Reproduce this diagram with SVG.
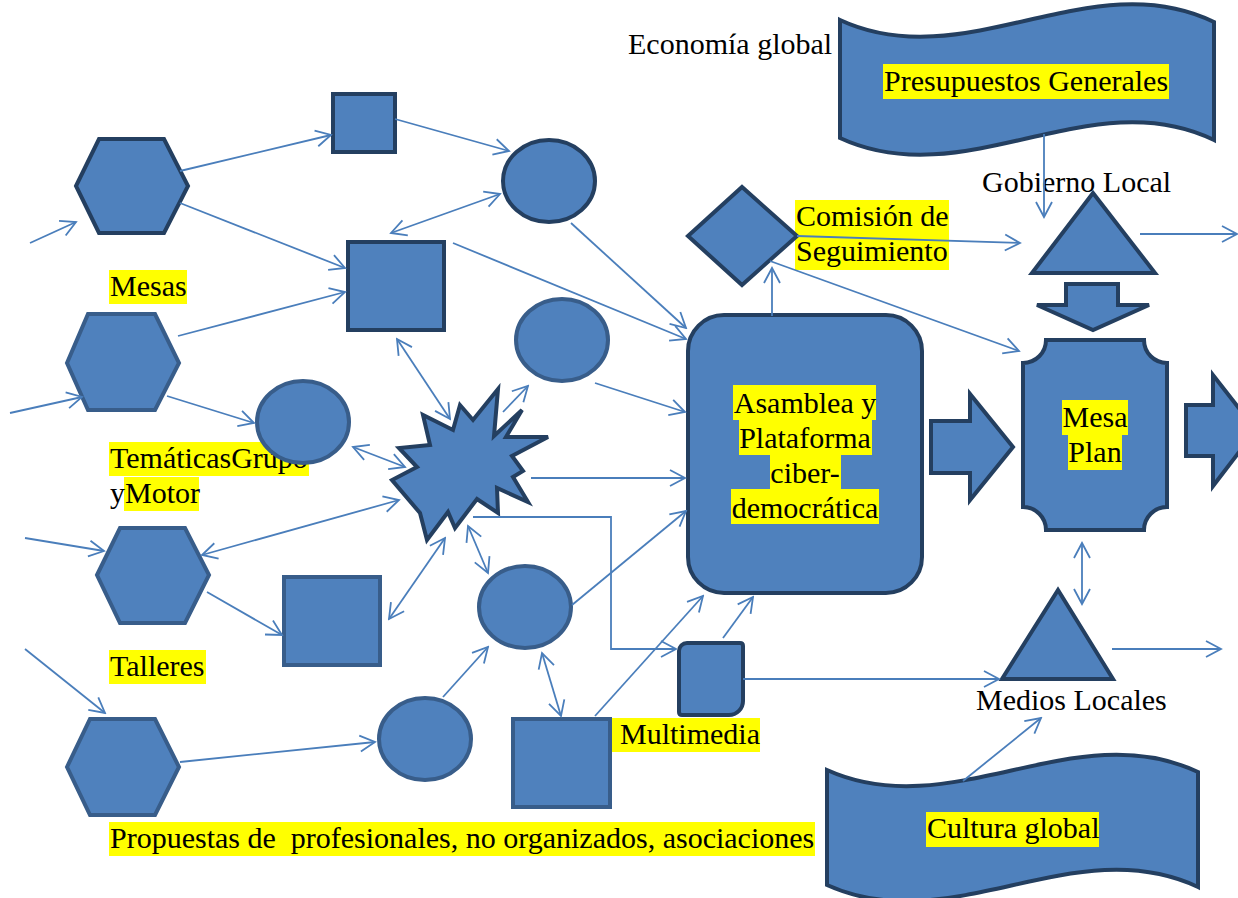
<svg xmlns="http://www.w3.org/2000/svg" width="1238" height="898" viewBox="0 0 1238 898">
  <defs>
    <style>
      .sd{fill:#4F81BD;stroke:#243F60;stroke-width:4}
      .sl{fill:#4F81BD;stroke:#385D8A;stroke-width:4}
      .c{fill:none;stroke:#4A7EBB;stroke-width:1.8}
      .ar{marker-end:url(#ah)}
      .da{marker-start:url(#ah);marker-end:url(#ah)}
      .t{font-family:"Liberation Serif","Times New Roman","DejaVu Serif",serif;font-size:30px;fill:#000;white-space:pre}
      .m{text-anchor:middle}
      .hl{fill:#FFFF00}
    </style>
    <marker id="ah" viewBox="-17 -10 19 20" refX="0" refY="0" markerWidth="19" markerHeight="20" markerUnits="userSpaceOnUse" orient="auto-start-reverse">
      <path d="M-15,-8 L0,0 L-15,8" fill="none" stroke="#4A7EBB" stroke-width="1.8"/>
    </marker>
  </defs>
  <rect width="1238" height="898" fill="#FFFFFF"/>

  <!-- free labels -->
  <g id="labels">
    <text class="t" x="628" y="54">Economía global</text>
    <text class="t" x="982" y="192">Gobierno Local</text>
    <rect class="hl" x="795" y="200" width="154" height="35"/>
    <rect class="hl" x="795" y="235" width="154" height="35"/>
    <text class="t" x="796" y="226">Comisión de</text>
    <text class="t" x="796" y="261">Seguimiento</text>
    <rect class="hl" x="109" y="270" width="78" height="34"/>
    <text class="t" x="110" y="296">Mesas</text>
    <rect class="hl" x="109" y="442" width="200" height="34"/>
    <rect class="hl" x="124" y="477" width="75" height="34"/>
    <text class="t" x="110" y="468">TemáticasGrupo</text>
    <text class="t" x="110" y="503">yMotor</text>
    <rect class="hl" x="109" y="650" width="97" height="34"/>
    <text class="t" x="110" y="676">Talleres</text>
    <rect class="hl" x="611" y="718" width="149" height="34"/>
    <text class="t" x="620" y="744">Multimedia</text>
    <rect class="hl" x="109" y="822" width="706" height="34"/>
    <text class="t" x="110" y="848">Propuestas de  profesionales, no organizados, asociaciones</text>
    <text class="t" x="976" y="710">Medios Locales</text>
  </g>

  <!-- nodes -->
  <g id="hex-1"><polygon class="sd" points="76,186 99,139 164,139 188,186 164,233 99,233"/></g>
  <g id="sq-small"><rect class="sd" x="333" y="94" width="62" height="58"/></g>
  <g id="sq-big"><rect class="sd" x="348" y="242" width="96" height="88"/></g>
  <g id="circle-top"><ellipse class="sd" cx="549" cy="181" rx="46" ry="41"/></g>
  <g id="hex-mesas"><polygon class="sl" points="67,363 88,314 155,314 179,363 155,410 88,410"/></g>
  <g id="circle-2"><ellipse class="sl" cx="303" cy="422" rx="46" ry="41"/></g>
  <g id="circle-3"><ellipse class="sl" cx="562" cy="340" rx="46" ry="41"/></g>
  <g id="star">
    <polygon class="sd" points="498,389 494,436 522,410 506,437 548,437 512,456 523,471 513,477 528,502 497,488 498,513 477,499 455,528 448,512 427,540 420,513 392,480 417,467 399,448 430,445 423,415 453,430 460,405 473,420"/>
  </g>
  <g id="hex-tematicas"><polygon class="sl" points="97,575 120,528 185,528 209,575 185,623 120,623"/></g>
  <g id="sq-3"><rect class="sl" x="284" y="577" width="96" height="88"/></g>
  <g id="circle-4"><ellipse class="sl" cx="525" cy="607" rx="46" ry="41"/></g>
  <g id="circle-5"><ellipse class="sl" cx="425" cy="739" rx="46" ry="41"/></g>
  <g id="sq-4"><rect class="sl" x="513" y="719" width="97" height="88"/></g>
  <g id="hex-talleres"><polygon class="sl" points="67,767 90,719 155,719 179,767 155,815 90,815"/></g>
  <g id="multimedia">
    <path class="sd" d="M687,643 L740,643 Q743,643 743,646 L743,701 A14,14 0 0 1 729,715 L682,715 Q679,715 679,712 L679,651 A8,8 0 0 1 687,643 Z"/>
  </g>
  <g id="comision"><polygon class="sd" points="688,236 742,187 797,236 742,285"/></g>
  <g id="asamblea">
    <rect class="sd" x="688" y="315" width="234" height="278" rx="36" ry="36"/>
    <rect class="hl" x="733" y="385" width="143" height="35"/>
    <rect class="hl" x="739" y="420" width="133" height="35"/>
    <rect class="hl" x="770" y="455" width="71" height="35"/>
    <rect class="hl" x="731" y="489" width="148" height="35"/>
    <text class="t m" x="805" y="413">Asamblea y</text>
    <text class="t m" x="805" y="448">Plataforma</text>
    <text class="t m" x="805" y="483">ciber-</text>
    <text class="t m" x="805" y="518">democrática</text>
  </g>
  <g id="arrow-to-plan"><path class="sd" d="M931,421 L970,421 L970,394 L1013,447 L970,500 L970,473 L931,473 Z"/></g>
  <g id="gobierno"><polygon class="sd" points="1093,193 1155,273 1032,273"/></g>
  <g id="arrow-down"><path class="sd" d="M1066,284 L1118,284 L1118,305 L1149,305 L1093,330 L1037,305 L1066,305 Z"/></g>
  <g id="mesa-plan">
    <path class="sd" d="M1046,340 L1144,340 A23,23 0 0 0 1167,363 L1167,507 A23,23 0 0 0 1144,530 L1046,530 A23,23 0 0 0 1023,507 L1023,363 A23,23 0 0 0 1046,340 Z"/>
    <rect class="hl" x="1062" y="400" width="66" height="35"/>
    <rect class="hl" x="1068" y="435" width="54" height="35"/>
    <text class="t m" x="1095" y="427">Mesa</text>
    <text class="t m" x="1095" y="462">Plan</text>
  </g>
  <g id="arrow-out"><path class="sd" d="M1186,405 L1213,405 L1213,375 L1256,430 L1213,486 L1213,456 L1186,456 Z"/></g>
  <g id="medios"><polygon class="sd" points="1058,590 1113,679 1002,679"/></g>
  <g id="presupuestos">
    <path class="sd" d="M840,20 C965,78 1090,-38 1214,22 L1214,140 C1090,80 965,196 840,138 Z"/>
    <rect class="hl" x="883" y="64" width="286" height="35"/>
    <text class="t" x="884" y="91">Presupuestos Generales</text>
  </g>
  <g id="cultura">
    <path class="sd" d="M827,770 C951,826 1074,714 1198,772 L1198,887 C1074,829 951,941 827,885 Z"/>
    <rect class="hl" x="926" y="812" width="173" height="35"/>
    <text class="t" x="927" y="838">Cultura global</text>
  </g>

  <!-- connectors -->
  <g id="connectors">
    <path class="c ar" d="M30,243 L76,222"/>
    <path class="c ar" d="M180,171 L331,135"/>
    <path class="c ar" d="M180,203 L345,268"/>
    <path class="c ar" d="M395,119 L509,151"/>
    <path class="c da" d="M391,233 L500,194"/>
    <path class="c ar" d="M571,223 L686,328"/>
    <path class="c ar" d="M453,243 L686,339"/>
    <path class="c ar" d="M178,336 L345,292"/>
    <path class="c ar" d="M10,413 L82,397"/>
    <path class="c ar" d="M167,396 L254,423"/>
    <path class="c da" d="M353,447 L405,467"/>
    <path class="c da" d="M397,339 L450,419"/>
    <path class="c ar" d="M503,412 L528,386"/>
    <path class="c ar" d="M595,383 L685,412"/>
    <path class="c ar" d="M531,478 L685,478"/>
    <path class="c ar" d="M473,517 L611,517 L611,649 L676,649"/>
    <path class="c da" d="M202,555 L399,500"/>
    <path class="c ar" d="M25,538 L104,551"/>
    <path class="c ar" d="M207,592 L282,635"/>
    <path class="c da" d="M445,538 L389,619"/>
    <path class="c da" d="M468,526 L488,573"/>
    <path class="c ar" d="M572,605 L686,511"/>
    <path class="c ar" d="M443,697 L488,647"/>
    <path class="c ar" d="M180,762 L375,742"/>
    <path class="c ar" d="M25,649 L105,713"/>
    <path class="c da" d="M542,653 L561,716"/>
    <path class="c ar" d="M595,716 L703,596"/>
    <path class="c ar" d="M723,638 L753,597"/>
    <path class="c ar" d="M743,679 L999,679"/>
    <path class="c ar" d="M772,316 L772,268"/>
    <path class="c ar" d="M797,236 L1020,243"/>
    <path class="c ar" d="M770,261 L1019,351"/>
    <path class="c ar" d="M1044,134 L1044,217"/>
    <path class="c ar" d="M1140,234 L1237,234"/>
    <path class="c da" d="M1082,543 L1082,604"/>
    <path class="c ar" d="M1112,649 L1221,649"/>
    <path class="c ar" d="M963,781 L1041,718"/>
  </g>
</svg>
